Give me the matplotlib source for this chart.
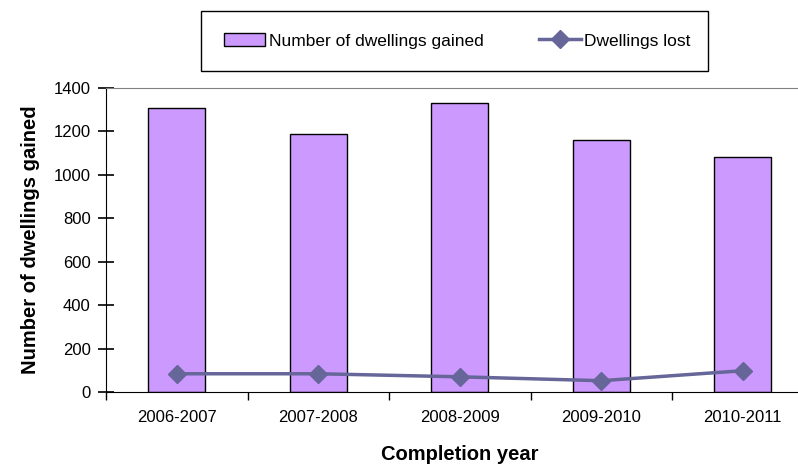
import numpy as np
import matplotlib.pyplot as plt
from matplotlib.patches import Rectangle

plt.rcParams['font.family'] = ['Liberation Sans', 'DejaVu Sans']

years = ["2006-2007", "2007-2008", "2008-2009", "2009-2010", "2010-2011"]
gained = [1310, 1190, 1330, 1160, 1080]
lost = [84, 84, 70, 52, 98]

fig = plt.figure(figsize=(7.98, 4.65), dpi=100)
ax = fig.add_axes([106 / 798, 73 / 465, 707.5 / 798, 304 / 465])

x = np.arange(len(years))
bars = ax.bar(x, gained, width=0.4, color='#CC99FF', edgecolor='black', linewidth=1,
              label='Number of dwellings gained', zorder=2)
line, = ax.plot(x, lost, color='#666699', linewidth=2.5, marker='D', markersize=9,
                label='Dwellings lost', zorder=3)

ax.set_xlim(-0.5, len(years) - 0.5)
ax.set_ylim(0, 1400)
ax.set_yticks(np.arange(0, 1401, 200))
ax.set_xticks(x)
ax.set_xticklabels(years)
ax.set_xticks(np.arange(-0.5, len(years), 1), minor=True)
ax.tick_params(axis='x', which='major', length=0, labelsize=12, pad=13)
ax.tick_params(axis='x', which='minor', length=6, width=1, direction='out')
ax.tick_params(axis='y', length=12, width=1.2, color='black', direction='inout',
               labelsize=12, pad=5)

ax.spines['top'].set_color('#808080')
ax.spines['right'].set_visible(False)

ax.set_ylabel('Number of dwellings gained', fontsize=14.5, fontweight='bold', labelpad=10)
ax.set_xlabel('Completion year', fontsize=14.5, fontweight='bold', labelpad=14)

# legend with a plain square frame above the plot
fig.patches.append(Rectangle((201 / 798, 394 / 465), 507 / 798, 60 / 465,
                             transform=fig.transFigure, fill=False,
                             edgecolor='black', linewidth=1))
fig.legend([bars, line], ['Number of dwellings gained', 'Dwellings lost'],
           loc='center', bbox_to_anchor=(457 / 798, 424 / 465),
           ncol=2, frameon=False, fontsize=12.5, handlelength=2.4,
           handletextpad=0.2, columnspacing=3.2)

fig.savefig('out.png', dpi=100)
